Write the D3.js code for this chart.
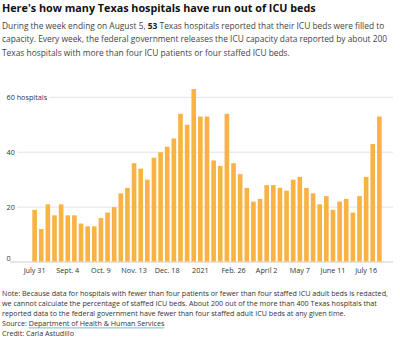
<!DOCTYPE html>
<html>
<head>
<meta charset="utf-8">
<script src="https://cdn.jsdelivr.net/npm/d3@7"></script>
<style>
  html, body { margin: 0; padding: 0; background: #fff; }
  svg { display: block; font-family: "Open Sans", sans-serif; }
</style>
</head>
<body>
<svg id="chart" width="400" height="344"></svg>
<script>
// ---- data ----
const hospitalsAtCapacity = [19,12,21,17,21,17,17,14,13,13,16,18,20,25,27,36,34,30,38,40,42,45,54,50,63,53,53,37,35,54,36,32,27,22,23,28,28,27,26,30,31,27,25,21,24,19,22,23,18,24,31,43,53];
const weekIndex = d3.range(hospitalsAtCapacity.length);
const tickIndex = [0,5,10,15,20,25,30,35,40,45,50];
const tickLabels = ["July 31","Sept. 4","Oct. 9","Nov. 13","Dec. 18","2021","Feb. 26","April 2","May 7","June 11","July 16"];
const yTicks = [0,20,40,60];
const yTickLabels = ["0","20","40","60 hospitals"];

const titleText = "Here's how many Texas hospitals have run out of ICU beds";
const introLines = [
  [["During the week ending on August 5, ", false], ["53", true], [" Texas hospitals reported that their ICU beds were filled to", false]],
  [["capacity. Every week, the federal government releases the ICU capacity data reported by about 200", false]],
  [["Texas hospitals with more than four ICU patients or four staffed ICU beds.", false]]
];
const noteLines = [
  "Note: Because data for hospitals with fewer than four patients or fewer than four staffed ICU adult beds is redacted,",
  "we cannot calculate the percentage of staffed ICU beds. About 200 out of the more than 400 Texas hospitals that",
  "reported data to the federal government have fewer than four staffed adult ICU beds at any given time."
];
const sourcePrefix = "Source: ";
const sourceName = "Department of Health & Human Services";
const creditText = "Credit: Carla Astudillo";

// ---- helpers ----
function fitSize(sel, base, target) {
  sel.attr("font-size", base);
  const w = sel.node().getComputedTextLength();
  return base * target / w;
}

// ---- drawing ----
const svg = d3.select("#chart");
const barColor = "#f9b345";
const textColor = "#333";

const title = svg.append("text").attr("x", 2).attr("y", 11.5)
  .attr("font-weight", 700).attr("fill", "#111").text(titleText);
title.attr("font-size", fitSize(title, 12, 314));

const intro = svg.append("g");
let introSize = null;
introLines.forEach((parts, i) => {
  const t = intro.append("text").attr("x", 2).attr("y", 28.5 + i * 13.6).attr("fill", "#444");
  parts.forEach(([s, b]) => {
    t.append("tspan").attr("font-weight", b ? 700 : 400).attr("fill", b ? "#222" : "#444").text(s);
  });
  if (i === 0) introSize = fitSize(t, 10, 383);
  t.attr("font-size", introSize);
});

const x = d3.scaleBand().domain(weekIndex).range([32.3, 381.7]).paddingInner(0.3).paddingOuter(0);
const y = d3.scaleLinear().domain([0, 60]).range([262, 97.3]);

// y label size from "60 hospitals" (~40.7px wide in the reference)
const probe = svg.append("text").text(yTickLabels[yTickLabels.length - 1]);
const ySize = fitSize(probe, 9, 40.7);
probe.remove();

// grid lines & y labels
const grid = svg.append("g");
yTicks.forEach((v, i) => {
  const lbl = grid.append("text").attr("x", 6.5).attr("font-size", ySize).attr("fill", textColor)
    .text(yTickLabels[i]);
  if (v === 0) {
    lbl.attr("y", y(v) - 1.5);
    grid.append("line").attr("x1", 10).attr("x2", 393).attr("y1", y(v)).attr("y2", y(v))
      .attr("stroke", "#ccc").attr("stroke-width", 1);
  } else {
    lbl.attr("y", y(v)).attr("dy", "0.35em");
    const w = lbl.node().getComputedTextLength();
    grid.append("line").attr("x1", 6.5 + w + 2.5).attr("x2", 393).attr("y1", y(v)).attr("y2", y(v))
      .attr("stroke", "#e3e3e3").attr("stroke-width", 1);
  }
});

// bars
svg.append("g").selectAll("rect").data(weekIndex).join("rect")
  .attr("x", d => x(d))
  .attr("width", x.bandwidth())
  .attr("y", d => y(hospitalsAtCapacity[d]))
  .attr("height", d => y(0) - y(hospitalsAtCapacity[d]) - 0.5)
  .attr("fill", barColor);

// x axis labels (fit "Nov. 13" to ~25px)
const probe2 = svg.append("text").text("Nov. 13");
const xSize = fitSize(probe2, 9, 25.5);
probe2.remove();
const xAxis = d3.axisBottom(x).tickValues(tickIndex).tickSize(0).tickPadding(0)
  .tickFormat(d => tickLabels[tickIndex.indexOf(d)]);
const xg = svg.append("g").attr("transform", `translate(0,${y(0) + 4.5})`).call(xAxis);
xg.select(".domain").remove();
xg.selectAll("text").attr("font-family", "Open Sans, sans-serif").attr("font-size", xSize)
  .attr("fill", textColor).attr("dy", "0.95em");

// notes
const notes = svg.append("g").attr("fill", "#333");
let noteSize = null;
noteLines.forEach((s, i) => {
  const t = notes.append("text").attr("x", 2).attr("y", 295.5 + i * 10.2).text(s);
  if (i === 0) noteSize = fitSize(t, 8, 387);
  t.attr("font-size", noteSize);
});
const srcY = 295.5 + 3 * 10.2;
const src = notes.append("text").attr("x", 2).attr("y", srcY).attr("font-size", noteSize);
src.append("tspan").text(sourcePrefix);
src.append("tspan").text(sourceName);
const preW = src.node().getSubStringLength(0, sourcePrefix.length);
const nameW = src.node().getSubStringLength(sourcePrefix.length, sourceName.length);
notes.append("line").attr("x1", 2 + preW).attr("x2", 2 + preW + nameW)
  .attr("y1", srcY + 1.8).attr("y2", srcY + 1.8)
  .attr("stroke", "#5aa6b8").attr("stroke-width", 0.8);
notes.append("text").attr("x", 2).attr("y", 295.5 + 4 * 10.2).attr("font-size", noteSize).text(creditText);
</script>
</body>
</html>
